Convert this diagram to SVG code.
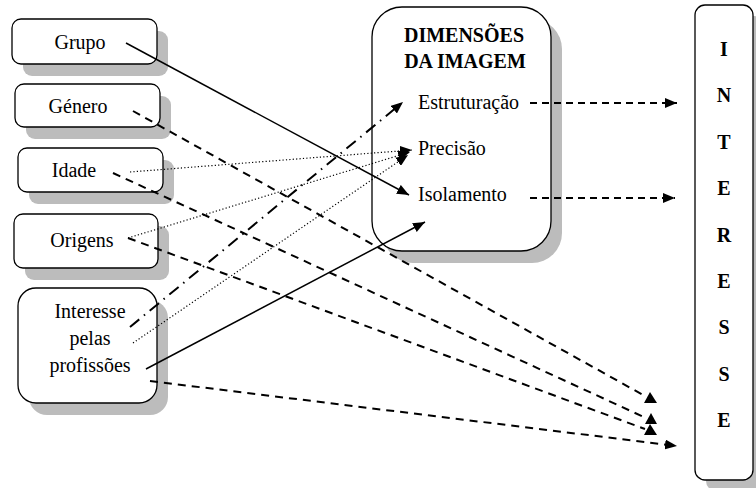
<svg xmlns="http://www.w3.org/2000/svg" width="756" height="488" viewBox="0 0 756 488">
<defs>
<marker id="ah" markerUnits="userSpaceOnUse" markerWidth="13" markerHeight="10" refX="12" refY="5" orient="auto"><path d="M0,0 L12,5 L0,10 z" fill="#000"/></marker>
</defs>
<style>
.box{fill:#fff;stroke:#000;stroke-width:1.3}
.sh{fill:#bcbcbc;stroke:none}
.t{font-family:"Liberation Serif","Times New Roman",serif;font-size:20px;fill:#000}
.b{font-family:"Liberation Serif","Times New Roman",serif;font-size:20px;font-weight:bold;fill:#000}
.solid{stroke:#000;stroke-width:1.5;fill:none}
.dash{stroke:#000;stroke-width:2;fill:none;stroke-dasharray:8 6}
.dash2{stroke:#000;stroke-width:1.8;fill:none;stroke-dasharray:7 5}
.dot{stroke:#000;stroke-width:1.2;fill:none;stroke-dasharray:1.2 2.2}
.dd{stroke:#000;stroke-width:2;fill:none;stroke-dasharray:12 6 1.5 6}
</style>
<rect width="756" height="488" fill="#fff"/>
<g id="grupo"><rect class="sh" x="23" y="31" width="145" height="45" rx="9"/><rect class="box" x="12" y="19" width="145" height="45" rx="9"/><text class="t" x="80" y="49" text-anchor="middle">Grupo</text></g>
<g id="genero"><rect class="sh" x="26" y="96" width="145" height="43" rx="9"/><rect class="box" x="15" y="84" width="145" height="43" rx="9"/><text class="t" x="78" y="113" text-anchor="middle">Género</text></g>
<g id="idade"><rect class="sh" x="29" y="160" width="145" height="44" rx="9"/><rect class="box" x="18" y="148" width="145" height="44" rx="9"/><text class="t" x="74" y="177" text-anchor="middle">Idade</text></g>
<g id="origens"><rect class="sh" x="25" y="226" width="144" height="54" rx="9"/><rect class="box" x="14" y="214" width="144" height="54" rx="9"/><text class="t" x="82" y="247" text-anchor="middle">Origens</text></g>
<g id="interesse-prof"><rect class="sh" x="29" y="300" width="139" height="115" rx="18"/><rect class="box" x="18" y="288" width="139" height="115" rx="18"/><text class="t" x="90" y="318" text-anchor="middle">Interesse</text><text class="t" x="90" y="345" text-anchor="middle">pelas</text><text class="t" x="90" y="372" text-anchor="middle">profissões</text></g>
<g id="dimensoes"><rect class="sh" x="383" y="19" width="179" height="244" rx="30"/><rect class="box" x="372" y="7" width="179" height="244" rx="30"/><text class="b" x="464" y="42" text-anchor="middle">DIMENSÕES</text><text class="b" x="465" y="68" text-anchor="middle">DA IMAGEM</text><text class="t" x="418" y="109">Estruturação</text><text class="t" x="418" y="155">Precisão</text><text class="t" x="418" y="201">Isolamento</text></g>
<g id="interesse"><rect class="sh" x="706" y="16" width="58" height="475" rx="10"/><rect class="box" x="695" y="5" width="58" height="475" rx="10"/>
<text class="b" x="724" y="56" text-anchor="middle">I</text>
<text class="b" x="724" y="102" text-anchor="middle">N</text>
<text class="b" x="724" y="149" text-anchor="middle">T</text>
<text class="b" x="724" y="195" text-anchor="middle">E</text>
<text class="b" x="724" y="242" text-anchor="middle">R</text>
<text class="b" x="724" y="288" text-anchor="middle">E</text>
<text class="b" x="724" y="334" text-anchor="middle">S</text>
<text class="b" x="724" y="381" text-anchor="middle">S</text>
<text class="b" x="724" y="427" text-anchor="middle">E</text></g>
<g id="connectors">
<line class="solid" x1="126" y1="43" x2="409" y2="195" marker-end="url(#ah)"/>
<line class="solid" x1="146" y1="369" x2="425" y2="222" marker-end="url(#ah)"/>
<line class="dd" x1="130" y1="327" x2="403" y2="102" marker-end="url(#ah)"/>
<line class="dot" x1="130" y1="172" x2="412" y2="150" marker-end="url(#ah)"/>
<line class="dot" x1="128" y1="238" x2="410" y2="152" marker-end="url(#ah)"/>
<line class="dot" x1="133" y1="343" x2="408" y2="155" marker-end="url(#ah)"/>
<line class="dash2" x1="530" y1="103" x2="677" y2="103" marker-end="url(#ah)"/>
<line class="dash2" x1="530" y1="198" x2="675" y2="198" marker-end="url(#ah)"/>
<line class="dash" x1="133" y1="111" x2="645" y2="396"/>
<line class="dash" x1="113" y1="173" x2="646" y2="418"/>
<line class="dash" x1="128" y1="238" x2="645" y2="429"/>
<line class="dash" x1="150" y1="381" x2="677" y2="446" marker-end="url(#ah)"/>
<polygon points="650,392 657,403 644,403" fill="#000"/>
<polygon points="651,413 657,424 645,424" fill="#000"/>
<polygon points="650,424 657,435 644,435" fill="#000"/>
</g>
</svg>
